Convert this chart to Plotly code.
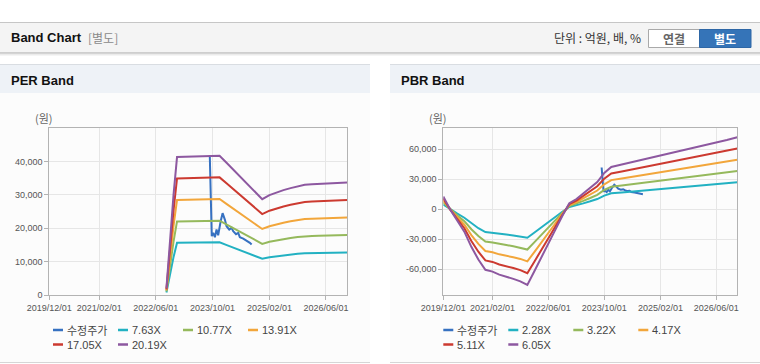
import plotly.graph_objects as go

# ---------------- data ----------------
x_tick_vals = ["2019-12-01", "2021-02-01", "2022-06-01", "2023-10-01", "2025-02-01", "2026-06-01"]
x_tick_text = ["2019/12/01", "2021/02/01", "2022/06/01", "2023/10/01", "2025/02/01", "2026/06/01"]

per_y_ticks = [0, 10000, 20000, 30000, 40000]
per_y_text = ["0", "10,000", "20,000", "30,000", "40,000"]
pbr_y_ticks = [-60000, -30000, 0, 30000, 60000]
pbr_y_text = ["-60,000", "-30,000", "0", "30,000", "60,000"]

price_name = "수정주가"
price_dates = ["2023-09-08", "2023-09-18", "2023-09-25", "2023-10-07", "2023-10-22", "2023-11-05",
               "2023-11-19", "2023-12-10", "2023-12-27", "2024-01-16", "2024-01-30", "2024-02-22",
               "2024-03-13", "2024-03-27", "2024-04-20", "2024-05-09", "2024-05-23", "2024-06-21",
               "2024-07-20", "2024-08-17", "2024-09-01"]
price_vals = [41800, 21000, 17600, 18600, 17300, 19600, 17900, 22000, 24500, 22500, 20600, 19600,
              20100, 19100, 18200, 18600, 17300, 16900, 16300, 15600, 15100]

per_names = ["7.63X", "10.77X", "13.91X", "17.05X", "20.19X"]
per_dates = ["2022-09-01", "2022-10-01", "2022-11-01", "2022-12-01", "2023-02-01", "2023-04-01",
             "2023-06-01", "2023-08-01", "2023-10-01", "2023-12-01", "2024-02-01", "2024-04-01",
             "2024-06-01", "2024-08-01", "2024-10-01", "2024-12-01", "2025-02-01", "2025-04-01",
             "2025-06-01", "2025-08-01", "2025-10-01", "2025-12-01", "2026-02-01", "2026-04-01",
             "2026-06-01", "2026-08-01", "2026-10-01", "2026-12-01"]
per_7_63 = [760, 6050, 11340, 15610, 15630, 15650, 15660, 15700, 15740, 15760, 14930, 14130, 13260,
            12470, 11600, 10850, 11300, 11600, 11870, 12090, 12320, 12470, 12530, 12570, 12620, 12660,
            12700, 12720]
per_10_77 = [1070, 8530, 16000, 22030, 22060, 22080, 22110, 22160, 22220, 22240, 21070, 19950, 18720,
             17600, 16380, 15310, 15950, 16380, 16750, 17070, 17390, 17600, 17680, 17740, 17820, 17870,
             17920, 17950]
per_13_91 = [1380, 11020, 20670, 28460, 28490, 28520, 28560, 28630, 28700, 28730, 27220, 25770, 24180,
             22740, 21150, 19770, 20600, 21150, 21630, 22050, 22460, 22740, 22840, 22910, 23010, 23080,
             23150, 23180]
per_17_05 = [1690, 13510, 25340, 34880, 34920, 34960, 35000, 35090, 35170, 35220, 33360, 31580, 29640,
             27870, 25930, 24240, 25250, 25930, 26520, 27020, 27530, 27870, 28000, 28080, 28210, 28290,
             28380, 28420]
per_20_19 = [2000, 16000, 30000, 41300, 41350, 41400, 41450, 41550, 41650, 41700, 39500, 37400, 35100,
             33000, 30700, 28700, 29900, 30700, 31400, 32000, 32600, 33000, 33150, 33250, 33400, 33500,
             33600, 33650]

pbr_names = ["2.28X", "3.22X", "4.17X", "5.11X", "6.05X"]
pbr_dates = ["2019-12-01", "2020-02-01", "2020-04-01", "2020-06-01", "2020-08-01", "2020-10-01",
             "2020-12-01", "2021-02-01", "2021-04-01", "2021-06-01", "2021-08-01", "2021-10-01",
             "2021-12-01", "2022-02-01", "2022-04-01", "2022-06-01", "2022-08-01", "2022-10-01",
             "2022-12-01", "2023-02-01", "2023-04-01", "2023-06-01", "2023-08-01", "2023-10-01",
             "2023-12-01", "2024-03-01", "2024-06-01", "2024-09-01", "2024-12-01", "2025-03-01",
             "2025-06-01", "2025-09-01", "2025-12-01", "2026-03-01", "2026-06-01", "2026-09-01",
             "2026-12-01"]
pbr_2_28 = [4790, -230, -4330, -8440, -14140, -18920, -22800, -23480, -24620, -25310, -26220, -27130,
            -28500, -23260, -18010, -12770, -7750, -2510, 2280, 3880, 5930, 7980, 10260, 13680, 15960,
            16870, 17780, 18700, 19610, 20520, 21430, 22340, 23260, 24170, 25080, 26110, 27130]
pbr_3_22 = [6760, -320, -6120, -11910, -19960, -26730, -32200, -33170, -34780, -35740, -37030, -38320,
            -40250, -32840, -25440, -18030, -10950, -3540, 3220, 5470, 8370, 11270, 14490, 19320, 22540,
            23830, 25120, 26400, 27690, 28980, 30270, 31560, 32840, 34130, 35420, 36870, 38320]
pbr_4_17 = [8760, -420, -7920, -15430, -25850, -34610, -41700, -42950, -45040, -46290, -47960, -49620,
            -52130, -42530, -32940, -23350, -14180, -4590, 4170, 7090, 10840, 14600, 18770, 25020, 29190,
            30860, 32530, 34190, 35860, 37530, 39200, 40870, 42530, 44200, 45870, 47750, 49620]
pbr_5_11 = [10730, -510, -9710, -18910, -31680, -42410, -51100, -52630, -55190, -56720, -58770, -60810,
            -63880, -52120, -40370, -28620, -17370, -5620, 5110, 8690, 13290, 17890, 23000, 30660, 35770,
            37810, 39860, 41900, 43950, 45990, 48030, 50080, 52120, 54170, 56210, 58510, 60810]
pbr_6_05 = [12710, -610, -11500, -22390, -37510, -50220, -60500, -62320, -65340, -67160, -69580, -72000,
            -75630, -61710, -47800, -33880, -20570, -6660, 6050, 10290, 15730, 21180, 27230, 36300, 42350,
            44770, 47190, 49610, 52030, 54450, 56870, 59290, 61710, 64130, 66550, 69270, 72000]

# ---------------- styling ----------------
W, H = 760, 364


def px(x):
    return x / W


def py(y):
    return 1 - y / H


PRICE_COLOR = "#3671c1"
BAND_COLORS = ["#22b1c2", "#95b95c", "#f2a63b", "#cc3a30", "#8d58a0"]
LATIN = "Liberation Sans, Arial, Noto Sans CJK KR, sans-serif"
KR = "Noto Sans CJK KR, Liberation Sans, sans-serif"

fig = go.Figure()

# PER band (left)
fig.add_trace(go.Scatter(x=price_dates, y=price_vals, name=price_name, mode="lines",
                         line=dict(color=PRICE_COLOR, width=2), xaxis="x", yaxis="y", showlegend=False))
for nm, vals, c in zip(per_names, [per_7_63, per_10_77, per_13_91, per_17_05, per_20_19], BAND_COLORS):
    fig.add_trace(go.Scatter(x=per_dates, y=vals, name=nm, mode="lines",
                             line=dict(color=c, width=2), xaxis="x", yaxis="y", showlegend=False))

# PBR band (right)
fig.add_trace(go.Scatter(x=price_dates, y=price_vals, name=price_name, mode="lines",
                         line=dict(color=PRICE_COLOR, width=2), xaxis="x2", yaxis="y2", showlegend=False))
for nm, vals, c in zip(pbr_names, [pbr_2_28, pbr_3_22, pbr_4_17, pbr_5_11, pbr_6_05], BAND_COLORS):
    fig.add_trace(go.Scatter(x=pbr_dates, y=vals, name=nm, mode="lines",
                             line=dict(color=c, width=2), xaxis="x2", yaxis="y2", showlegend=False))

axis_common = dict(showgrid=True, gridcolor="#e6e6e6", gridwidth=1, showline=True, linecolor="#b3b3b3",
                   linewidth=1, mirror=True, ticks="outside", ticklen=4, tickcolor="#b3b3b3",
                   tickfont=dict(size=9, color="#555555", family=LATIN), zeroline=False, fixedrange=True,
                   automargin=False)

fig.update_layout(
    width=W, height=H, autosize=False,
    margin=dict(l=0, r=0, t=0, b=0, pad=0, autoexpand=False),
    paper_bgcolor="white", plot_bgcolor="rgba(0,0,0,0)",
    font=dict(family=LATIN, size=11, color="#333333"),
    showlegend=False,
    xaxis=dict(domain=[px(49.3), px(347.3)], anchor="y", type="date",
               range=["2019-12-01", "2026-12-01"], tickmode="array",
               tickvals=x_tick_vals, ticktext=x_tick_text, tickangle=0, **axis_common),
    yaxis=dict(domain=[py(295), py(128)], anchor="x", range=[0, 50000], tickmode="array",
               tickvals=per_y_ticks, ticktext=per_y_text, **axis_common),
    xaxis2=dict(domain=[px(443.3), px(737.3)], anchor="y2", type="date",
                range=["2019-12-01", "2026-12-01"], tickmode="array",
                tickvals=x_tick_vals, ticktext=x_tick_text, tickangle=0, **axis_common),
    yaxis2=dict(domain=[py(295), py(128)], anchor="x2", range=[-85700, 81300], tickmode="array",
                tickvals=pbr_y_ticks, ticktext=pbr_y_text, **axis_common),
)

shapes = []


def rect(x0, y0, x1, y1, fill, line_color=None, layer="below", lw=1):
    shapes.append(dict(type="rect", xref="paper", yref="paper", x0=px(x0), x1=px(x1), y0=py(y1), y1=py(y0),
                       fillcolor=fill, line=dict(color=line_color or fill, width=lw if line_color else 0),
                       layer=layer))


def hline(x0, x1, y, color, width=1, layer="below"):
    shapes.append(dict(type="line", xref="paper", yref="paper", x0=px(x0), x1=px(x1), y0=py(y), y1=py(y),
                       line=dict(color=color, width=width), layer=layer))


# top header bar
rect(0, 22, 760, 53, "#f4f4f4")
hline(0, 760, 22.5, "#c6c6c6")
hline(0, 760, 53, "#a9a9a9")
hline(0, 760, 54, "#d4d4d4")
hline(0, 760, 55, "#ececec")

# panels
for x0, x1 in [(0, 370), (390, 760)]:
    rect(x0, 93, x1, 363, "#fcfcfc")
    rect(x0, 64, x1, 93, "#eef2f7")
    hline(x0, x1, 64.5, "#d9dde2")
    hline(x0, x1, 362.5, "#d6d6d6")

# buttons
rect(648.5, 29.5, 699.5, 47.5, "#ffffff", "#a9a9a9", layer="above")
rect(699.5, 29.5, 751, 47.5, "#3574b8", "#2e67a6", layer="above")

annotations = []


def text(x, y, s, size=11, color="#333333", anchor="left", bold=False, family=LATIN):
    annotations.append(dict(xref="paper", yref="paper", x=px(x), y=py(y), text=s, showarrow=False,
                            xanchor=anchor, yanchor="middle",
                            font=dict(size=size, color=color, family=family,
                                      weight="bold" if bold else "normal"),
                            borderpad=0))


text(10, 38, "Band Chart", size=13, color="#111111", bold=True)
text(87, 38, "[별도]", size=12, color="#8a8a8a", family=KR)
text(642, 38, "단위 : 억원, 배, %", size=12, color="#333333", anchor="right", family=KR)
text(674, 38.5, "연결", size=12, color="#666666", anchor="center", bold=True, family=KR)
text(725, 38.5, "별도", size=12, color="#ffffff", anchor="center", bold=True, family=KR)
text(10, 80, "PER Band", size=13, color="#111111", bold=True)
text(400, 80, "PBR Band", size=13, color="#111111", bold=True)
text(44, 118, "(원)", size=11, color="#666666", anchor="center", family=KR)
text(438, 118, "(원)", size=11, color="#666666", anchor="center", family=KR)

# custom legends
legend_cols = [0, 65, 130, 195]
for base, names in [(53, per_names), (443.3, pbr_names)]:
    entries = [(price_name, PRICE_COLOR)] + list(zip(names, BAND_COLORS))
    for i, (nm, c) in enumerate(entries):
        row, col = divmod(i, 4)
        lx = base + legend_cols[col]
        ly = 330 + row * 14.5
        hline(lx, lx + 10, ly, c, width=2.5, layer="above")
        text(lx + 12.5, ly, nm, size=11, color="#444444", family=KR if nm == price_name else LATIN)

fig.update_layout(shapes=shapes, annotations=annotations)

fig.write_html("out.html", include_plotlyjs=True, full_html=True,
               config={"displayModeBar": False, "staticPlot": True},
               post_script="document.body.style.margin='0';")
